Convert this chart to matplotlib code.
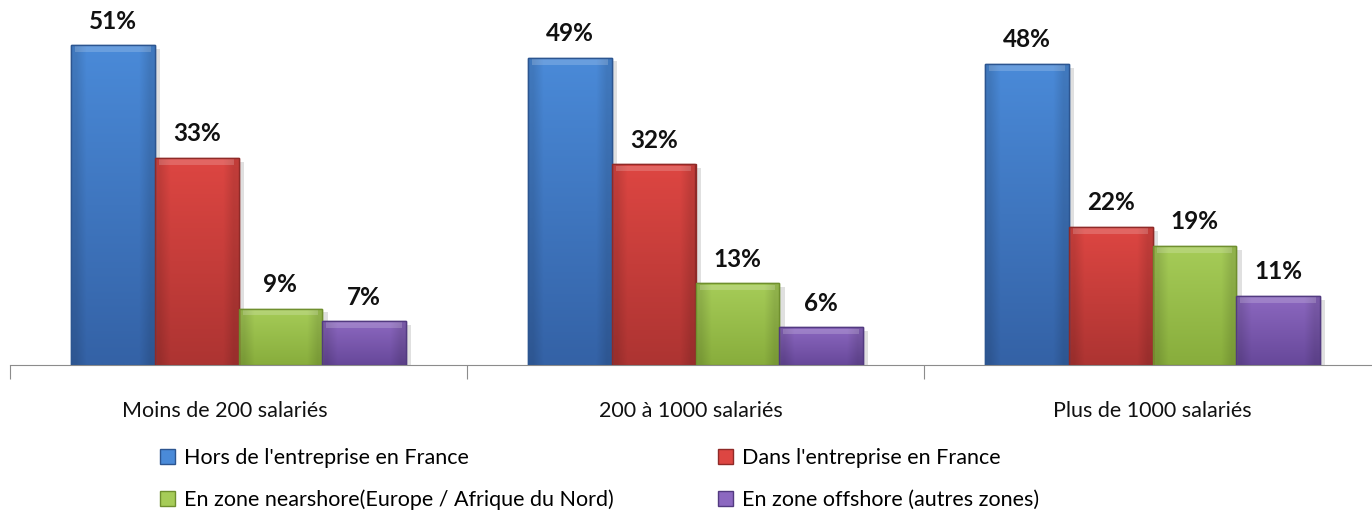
import numpy as np
import matplotlib.pyplot as plt
from matplotlib.patches import Patch

categories = ["Moins de 200 salariés", "200 à 1000 salariés", "Plus de 1000 salariés"]
series_names = ["Hors de l'entreprise en France", "Dans l'entreprise en France",
                "En zone nearshore(Europe / Afrique du Nord)", "En zone offshore (autres zones)"]
hors_france = [51, 49, 48]
dans_france = [33, 32, 22]
nearshore = [9, 13, 19]
offshore = [7, 6, 11]

top_colors = ["#4a8ad8", "#dd4642", "#a6cc58", "#8c68c0"]
bot_colors = ["#3462a6", "#ad3432", "#88ad3c", "#67489a"]
edge_colors = ["#2c5590", "#8f2a28", "#6f8f2e", "#523a80"]

plt.rcParams['font.family'] = ['Lato', 'DejaVu Sans']

fig = plt.figure(figsize=(13.72, 5.17), dpi=100)
ax = fig.add_axes([10 / 1372, 152 / 517, 1371 / 1372, 345 / 517])

values = [hors_france, dans_france, nearshore, offshore]
x = np.arange(len(categories))
w = 0.183

def hex2rgb(h):
    return np.array([int(h[i:i + 2], 16) / 255 for i in (1, 3, 5)])

for i, vals in enumerate(values):
    pos = x + (i - 1.5) * w
    # shadow
    ax.bar(pos + 0.012, vals, w, bottom=-0.6, color="#000000", alpha=0.12, zorder=1, linewidth=0)
    bars = ax.bar(pos, vals, w, color=top_colors[i], edgecolor=edge_colors[i], linewidth=1.0, zorder=2)
    c1, c2 = hex2rgb(top_colors[i]), hex2rgb(bot_colors[i])
    for b, v in zip(bars, vals):
        t = np.linspace(0, 1, 64)[:, None]
        grad = (c1[None, :] * (1 - t) + c2[None, :] * t)[:, None, :]
        grad = np.repeat(grad, 8, axis=1)
        side = np.ones(8)
        side[0] = side[-1] = 0.88
        grad = grad * side[None, :, None]
        im = ax.imshow(grad, extent=[b.get_x(), b.get_x() + b.get_width(), 0, v],
                       aspect='auto', zorder=2.5, origin='upper', interpolation='bilinear')
        im.set_clip_path(b)
        ax.bar(b.get_x() + b.get_width() / 2, 0.9, b.get_width() * 0.9, bottom=v - 1.1,
               color="white", alpha=0.18, zorder=3, linewidth=0)
        ax.bar(b.get_x() + b.get_width() / 2, v, b.get_width(), color="none",
               edgecolor=edge_colors[i], linewidth=1.0, zorder=4)
        ax.text(b.get_x() + b.get_width() / 2, v + 2.0, f"{v}%", ha='center', va='bottom',
                fontsize=17.5, fontweight='bold', color="#111111", zorder=5)

ax.set_xlim(-0.5, 2.5)
ax.set_ylim(0, 55)
ax.set_yticks([])
for s in ['top', 'right', 'left']:
    ax.spines[s].set_visible(False)
ax.spines['bottom'].set_color("#8c8c8c")
ax.set_xticks([-0.5, 0.5, 1.5, 2.5])
ax.set_xticklabels([])
ax.tick_params(axis='x', length=10, color="#8c8c8c", direction='out')
label_shift = [-0.03, -0.01, 0.0]
for xi, c, dx in zip(x, categories, label_shift):
    ax.text(xi + dx, -5.7, c, ha='center', va='top', fontsize=15.5, color="#111111")

# legend filled row by row: reorder for column-wise filling
order = [0, 2, 1, 3]
handles = [Patch(facecolor=top_colors[i], edgecolor=edge_colors[i]) for i in order]
labels = [series_names[i] for i in order]
fig.legend(handles, labels, ncol=2, loc='upper left', bbox_to_anchor=(141 / 1372, 1 - 429 / 517),
           frameon=False, fontsize=15.5, handlelength=0.7, handleheight=0.7, handletextpad=0.4,
           columnspacing=4.85, labelspacing=1.0)

fig.savefig("out.png", dpi=100)
